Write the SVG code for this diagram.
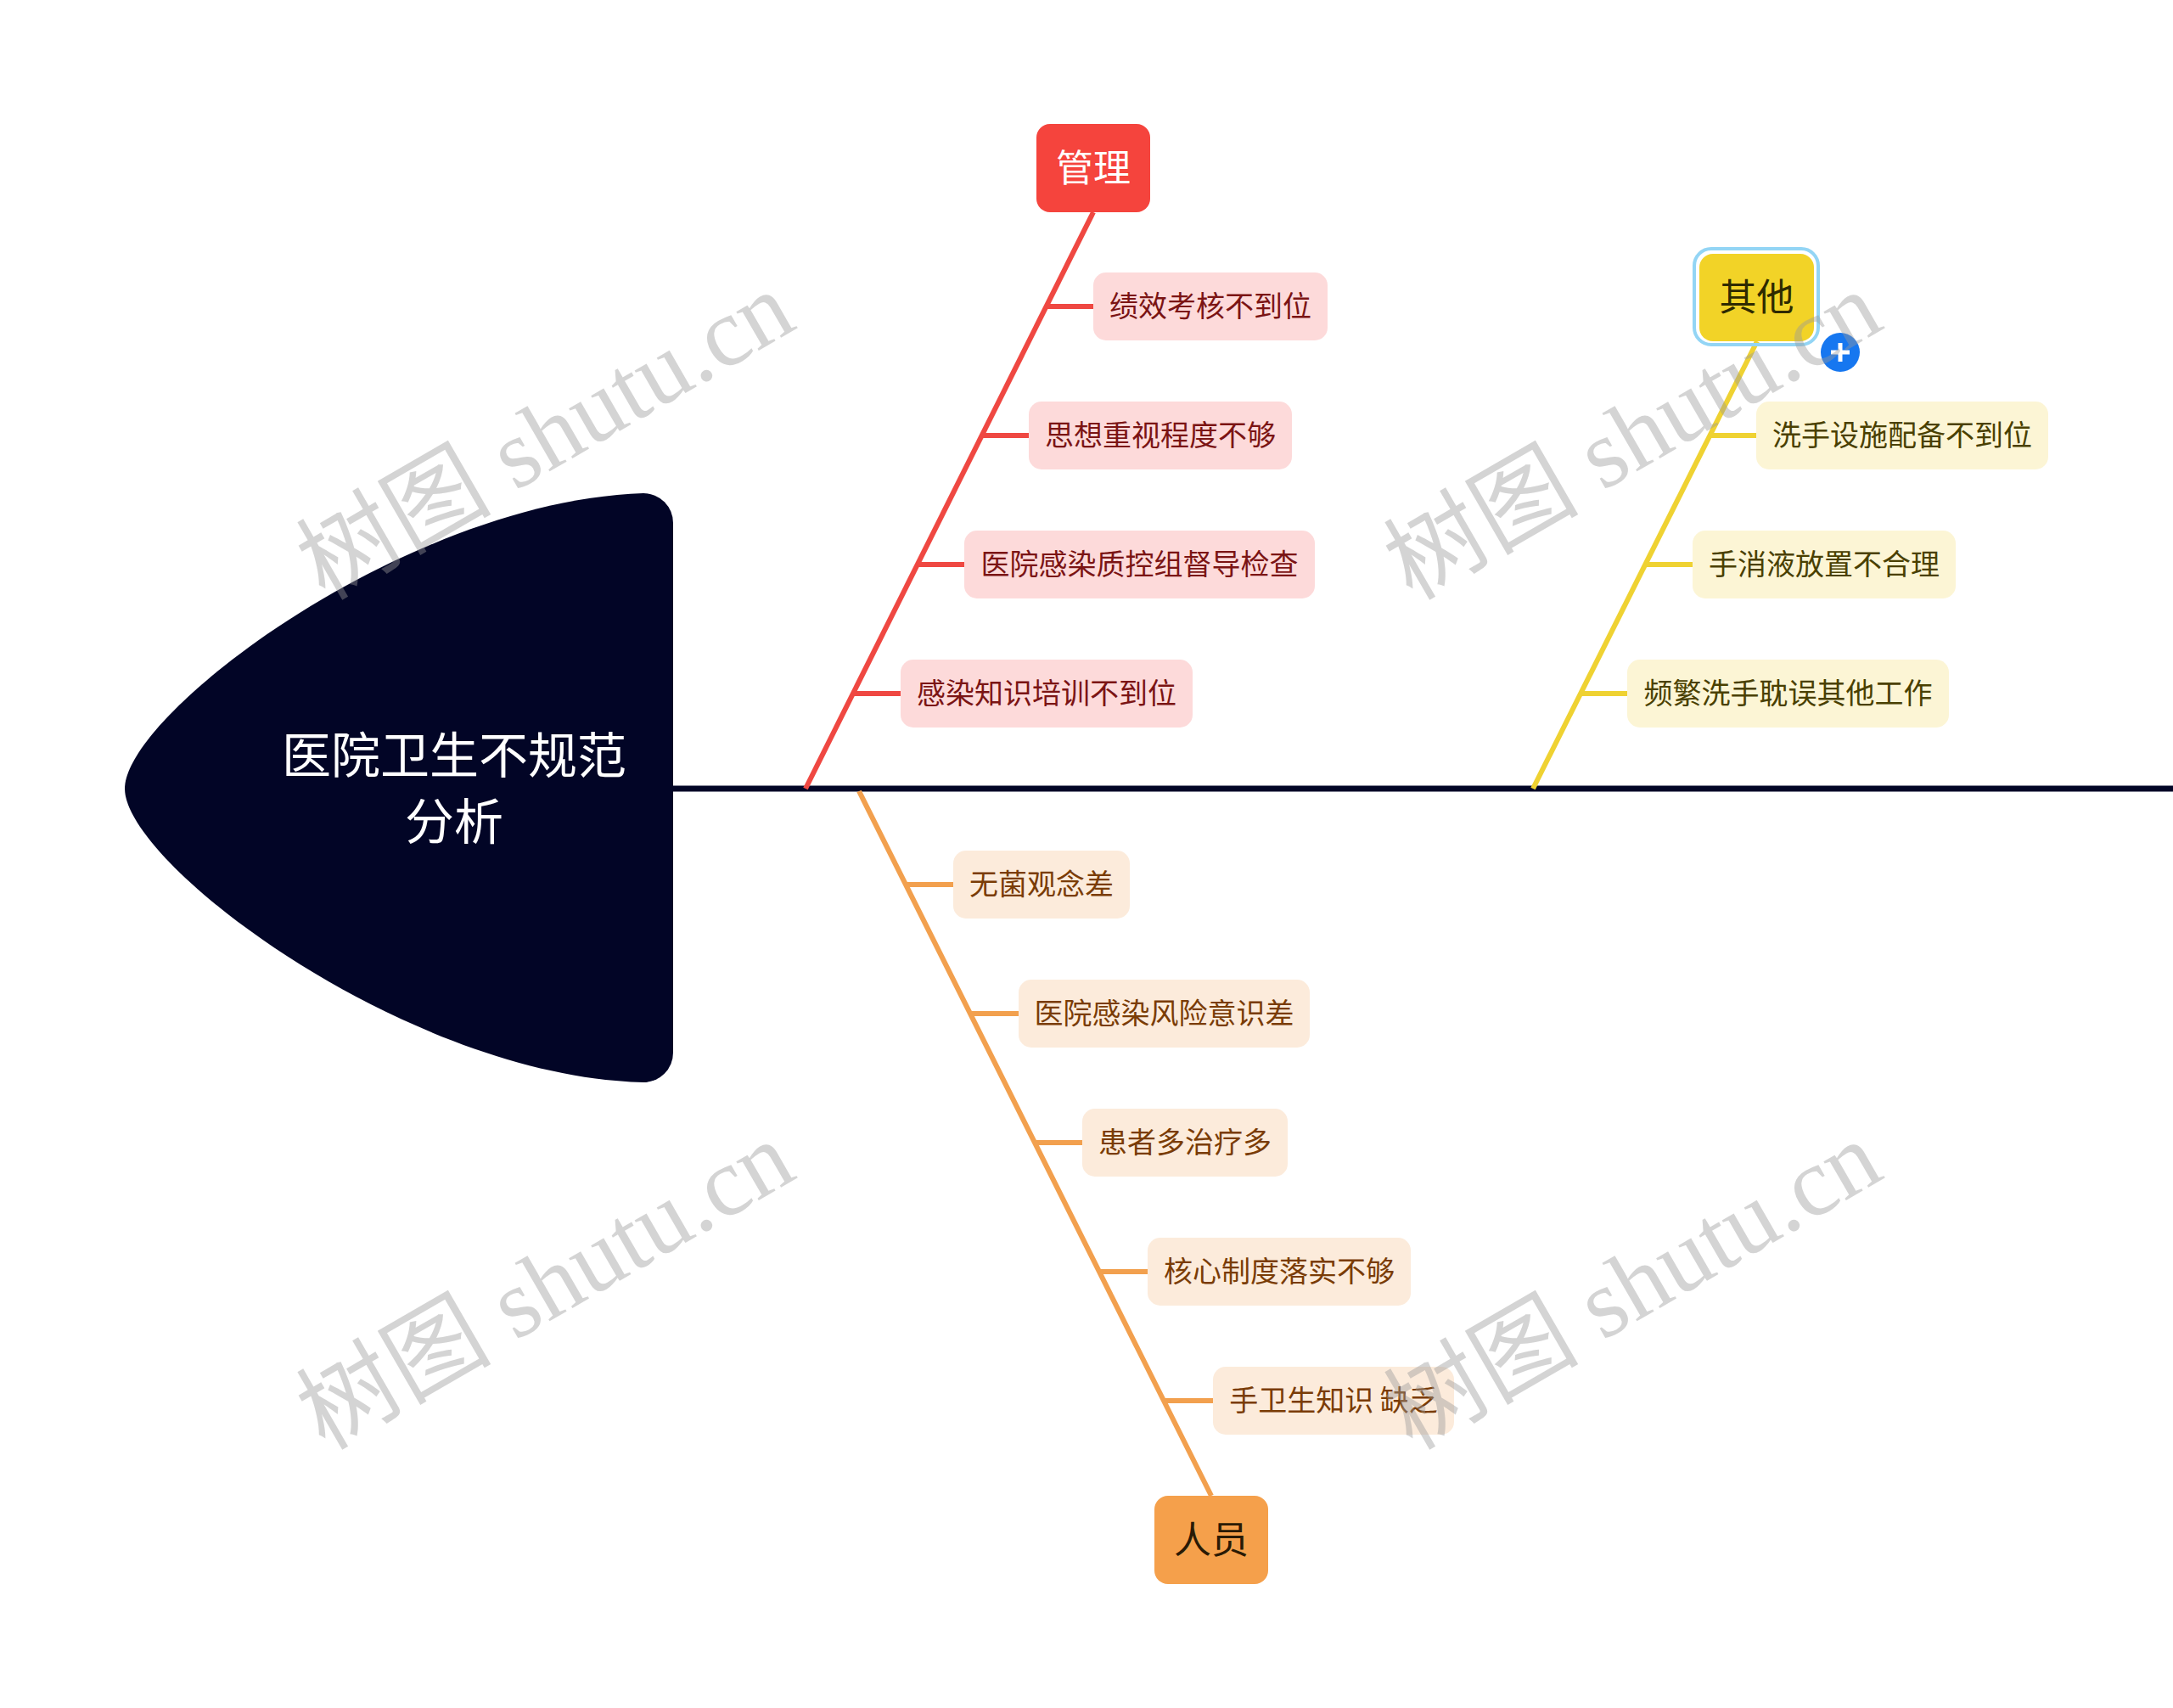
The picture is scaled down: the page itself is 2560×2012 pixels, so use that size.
<svg xmlns="http://www.w3.org/2000/svg" width="2560" height="2012" viewBox="0 0 2560 2012">
<style>
text{font-family:"Noto Sans CJK SC","Noto Sans",sans-serif;}
.sub{font-size:34px;text-anchor:middle;}
.main{font-size:44px;text-anchor:middle;}
.rbox{fill:#FDDADA;}
.ybox{fill:#FCF5D5;}
.obox{fill:#FCEBDB;}
.rt{fill:#7B1414;}
.yt{fill:#4A4000;}
.ot{fill:#7A3C06;}
.rl{stroke:#EF4842;stroke-width:6;fill:none;stroke-linecap:butt;}
.yl{stroke:#EFD232;stroke-width:6;fill:none;}
.ol{stroke:#F2A04E;stroke-width:6;fill:none;}
.wm{font-family:"Liberation Serif","Noto Sans CJK SC",serif;font-size:115px;fill:#9a9a9a;opacity:0.42;}
</style>
<rect x="0" y="0" width="2560" height="2012" fill="#FFFFFF"/>

<g id="connectors">
<line x1="793" y1="929" x2="2560" y2="929" stroke="#020526" stroke-width="7"/>
<line class="rl" x1="1288" y1="250" x2="949" y2="929"/>
<line class="rl" x1="1232.6" y1="361" x2="1288" y2="361"/>
<line class="rl" x1="1156.7" y1="513" x2="1212" y2="513"/>
<line class="rl" x1="1080.8" y1="665" x2="1136" y2="665"/>
<line class="rl" x1="1004.9" y1="817" x2="1061" y2="817"/>
<line class="yl" x1="2070" y1="402" x2="1806" y2="929"/>
<line class="yl" x1="2014.4" y1="513" x2="2069" y2="513"/>
<line class="yl" x1="1938.3" y1="665" x2="1994" y2="665"/>
<line class="yl" x1="1862.1" y1="817" x2="1917" y2="817"/>
<line class="ol" x1="1012" y1="932" x2="1427" y2="1762"/>
<line class="ol" x1="1067" y1="1042" x2="1123" y2="1042"/>
<line class="ol" x1="1143" y1="1194" x2="1200" y2="1194"/>
<line class="ol" x1="1219" y1="1346" x2="1275" y2="1346"/>
<line class="ol" x1="1295" y1="1498" x2="1352" y2="1498"/>
<line class="ol" x1="1371" y1="1650" x2="1429" y2="1650"/>
</g>

<g id="head">
<path d="M147 929 C147 840 480 590 758 581 A35 35 0 0 1 793 616 L793 1240 A35 35 0 0 1 758 1275 C480 1268 147 1018 147 929 Z" fill="#020526"/>
<text x="535" y="911" font-size="58" fill="#FFFFFF" text-anchor="middle">医院卫生不规范</text>
<text x="535" y="989" font-size="58" fill="#FFFFFF" text-anchor="middle">分析</text>
</g>

<g id="node-guanli">
<rect x="1221" y="146" width="134" height="104" rx="16" fill="#F5443D"/>
<text class="main" x="1288" y="214" fill="#FFFFFF">管理</text>
</g>
<g id="node-r1"><rect class="rbox" x="1288" y="321" width="276" height="80" rx="15"/><text class="sub rt" x="1426" y="373">绩效考核不到位</text></g>
<g id="node-r2"><rect class="rbox" x="1212" y="473" width="310" height="80" rx="15"/><text class="sub rt" x="1367" y="525">思想重视程度不够</text></g>
<g id="node-r3"><rect class="rbox" x="1136" y="625" width="413" height="80" rx="15"/><text class="sub rt" x="1342.5" y="677">医院感染质控组督导检查</text></g>
<g id="node-r4"><rect class="rbox" x="1061" y="777" width="344" height="80" rx="15"/><text class="sub rt" x="1233" y="829">感染知识培训不到位</text></g>

<g id="node-qita">
<rect x="1996" y="293" width="146" height="113" rx="20" fill="none" stroke="#93D5F5" stroke-width="4"/>
<rect x="2002" y="299" width="135" height="103" rx="16" fill="#F2D327"/>
<text class="main" x="2069.5" y="366" fill="#2E2A00">其他</text>
<circle cx="2168" cy="415" r="23" fill="#1677F0"/>
<line x1="2157" y1="415" x2="2179" y2="415" stroke="#FFFFFF" stroke-width="5"/>
<line x1="2168" y1="404" x2="2168" y2="426" stroke="#FFFFFF" stroke-width="5"/>
</g>
<g id="node-y1"><rect class="ybox" x="2069" y="473" width="344" height="80" rx="15"/><text class="sub yt" x="2241" y="525">洗手设施配备不到位</text></g>
<g id="node-y2"><rect class="ybox" x="1994" y="625" width="310" height="80" rx="15"/><text class="sub yt" x="2149" y="677">手消液放置不合理</text></g>
<g id="node-y3"><rect class="ybox" x="1917" y="777" width="379" height="80" rx="15"/><text class="sub yt" x="2106.5" y="829">频繁洗手耽误其他工作</text></g>

<g id="node-renyuan">
<rect x="1360" y="1762" width="134" height="104" rx="16" fill="#F5A04B"/>
<text class="main" x="1427" y="1830" fill="#2A1A05">人员</text>
</g>
<g id="node-o1"><rect class="obox" x="1123" y="1002" width="208" height="80" rx="15"/><text class="sub ot" x="1227" y="1054">无菌观念差</text></g>
<g id="node-o2"><rect class="obox" x="1200" y="1154" width="343" height="80" rx="15"/><text class="sub ot" x="1371.5" y="1206">医院感染风险意识差</text></g>
<g id="node-o3"><rect class="obox" x="1275" y="1306" width="242" height="80" rx="15"/><text class="sub ot" x="1396" y="1358">患者多治疗多</text></g>
<g id="node-o4"><rect class="obox" x="1352" y="1458" width="310" height="80" rx="15"/><text class="sub ot" x="1507" y="1510">核心制度落实不够</text></g>
<g id="node-o5"><rect class="obox" x="1429" y="1610" width="284" height="80" rx="15"/><text class="sub ot" x="1571" y="1662">手卫生知识 缺乏</text></g>

<g id="watermarks">
<text class="wm" transform="translate(643 514) rotate(-30)" text-anchor="middle" y="38">树图 shutu.cn</text>
<text class="wm" transform="translate(1924 514) rotate(-30)" text-anchor="middle" y="38">树图 shutu.cn</text>
<text class="wm" transform="translate(643 1515) rotate(-30)" text-anchor="middle" y="38">树图 shutu.cn</text>
<text class="wm" transform="translate(1924 1515) rotate(-30)" text-anchor="middle" y="38">树图 shutu.cn</text>
</g>
</svg>
